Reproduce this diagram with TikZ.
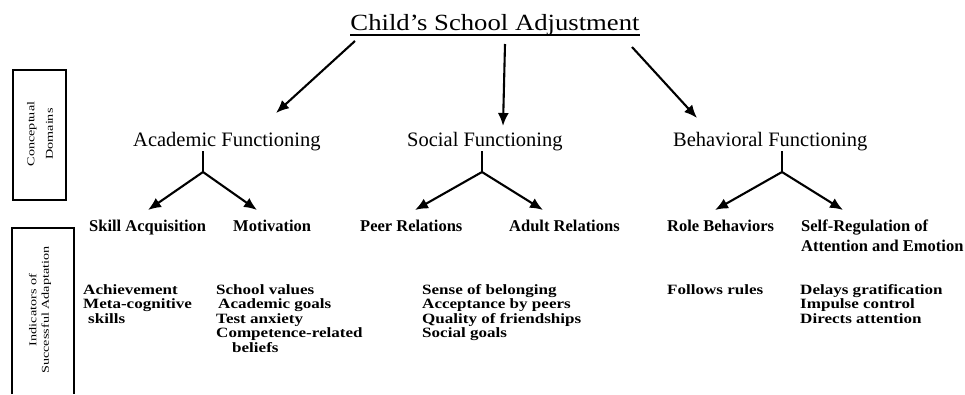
\documentclass[tikz,border=0pt]{standalone}
\usepackage{fontspec}
\setmainfont{Liberation Serif}
\newfontfamily\titlefont[FakeStretch=1.15]{Liberation Serif}
\newfontfamily\sidefont[FakeStretch=1.35]{Liberation Serif}
\newfontfamily\indfont[FakeStretch=1.2,UprightFont={* Bold}]{Liberation Serif}
\usetikzlibrary{arrows.meta}
\newcommand\rows[1]{\vtop{#1}}
\tikzset{
  lbl/.style={inner sep=0pt, anchor=base west},
  titlestyle/.style={inner sep=0pt, anchor=base, font={\titlefont\fontsize{23.2}{28}\selectfont}},
  dom/.style={lbl, font={\fontsize{20.5}{24}\selectfont}},
  sub/.style={lbl, font={\bfseries\fontsize{16.5}{20}\selectfont\lineskiplimit=-50pt}},
  ind/.style={lbl, font={\indfont\fontsize{14.2}{14.6}\selectfont\lineskiplimit=-50pt}},
  arr/.style={line width=2.1pt, -{Latex[length=13pt,width=11pt]}},
  stemline/.style={line width=2.1pt},
  sidebox/.style={line width=1.5pt},
  sidetext/.style={rotate=90, align=center, inner sep=0pt}
}
\begin{document}
\begin{tikzpicture}[x=1pt,y=-1pt]
\useasboundingbox (0,0) rectangle (965,394);

% title
\node[titlestyle] (title) at (495,30) {Child’s School Adjustment};
\draw[line width=1.3pt] ([yshift=-5pt]title.base west) -- ([yshift=-5pt]title.base east);

% domains
\node[dom] (acad) at (133,146) {Academic Functioning};
\node[dom] (soc) at (407,146) {Social Functioning};
\node[dom] (beh) at (673,146) {Behavioral Functioning};

% arrows from title
\coordinate (tA) at (355,41);  \coordinate (hA) at (276,113);
\coordinate (tS) at (505,44);  \coordinate (hS) at (503,126);
\coordinate (tB) at (632,47);  \coordinate (hB) at (697,118);
\draw[arr] (tA) -- (hA);
\draw[arr] (tS) -- (hS);
\draw[arr] (tB) -- (hB);

% sub-dimensions
\node[sub] (skill) at (89,231) {Skill Acquisition};
\node[sub] (motiv) at (233,231) {Motivation};
\node[sub] (peer) at (360,231) {Peer Relations};
\node[sub] (adult) at (509,231) {Adult Relations};
\node[sub] (role) at (667,231) {Role Behaviors};
\node[sub] (selfreg) at (801,231) {\rows{\hbox{Self-Regulation of}\hbox{Attention and Emotion}}};

% branch structures
\coordinate (sA) at (203,151); \coordinate (jA) at (203,172);
\coordinate (lA) at (148,210); \coordinate (rA) at (257,210);
\coordinate (sS) at (482,151); \coordinate (jS) at (482,172);
\coordinate (lS) at (415,210); \coordinate (rS) at (543,210);
\coordinate (sB) at (782,151); \coordinate (jB) at (782,172);
\coordinate (lB) at (715,210); \coordinate (rB) at (843,210);
\foreach \g in {A,S,B}{
  \draw[stemline] (s\g) -- (j\g);
  \draw[arr] (j\g) -- (l\g);
  \draw[arr] (j\g) -- (r\g);
}

% indicators
\node[ind] (iskill) at (83,294) {\rows{\hbox{Achievement}\hbox{Meta-cognitive}\hbox{\hspace{5pt}skills}}};
\node[ind] (imotiv) at (216,294) {\rows{\hbox{School values}\hbox{\hspace{2pt}Academic goals}\hbox{Test anxiety}\hbox{Competence-related}\hbox{\hspace{16pt}beliefs}}};
\node[ind] (isoc) at (422,294) {\rows{\hbox{Sense of belonging}\hbox{Acceptance by peers}\hbox{Quality of friendships}\hbox{Social goals}}};
\node[ind] (irole) at (667,294) {Follows rules};
\node[ind] (iself) at (800,294) {\rows{\hbox{Delays gratification}\hbox{Impulse control}\hbox{Directs attention}}};

% side boxes
\draw[sidebox] (13,70) rectangle (66,200);
\node[sidetext, font={\sidefont\fontsize{10.5}{18.5}\selectfont}] (cdom) at (40,134) {Conceptual\\Domains};
\draw[sidebox] (12,394) -- (12,228) -- (74,228) -- (74,394);
\node[sidetext, font={\sidefont\fontsize{10.5}{12.5}\selectfont}] (indic) at (40,310) {Indicators of\\Successful Adaptation};
\end{tikzpicture}
\end{document}
